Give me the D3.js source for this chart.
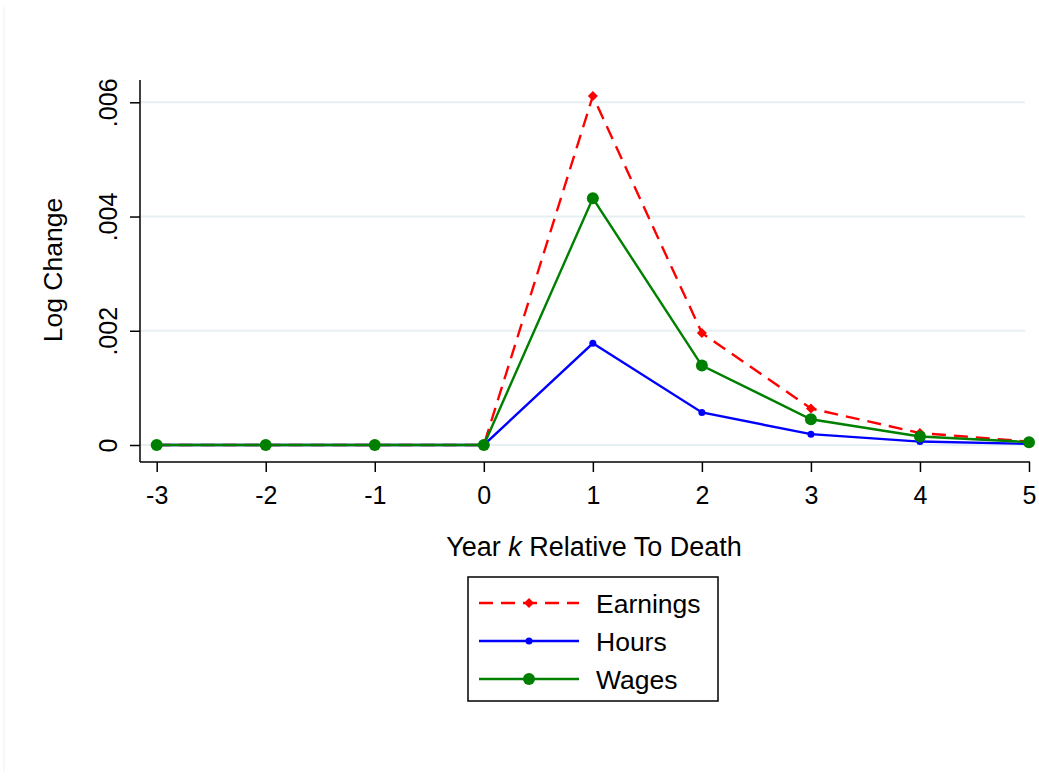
<!DOCTYPE html>
<html>
<head>
<meta charset="utf-8">
<script src="https://cdn.jsdelivr.net/npm/d3@7"></script>
<style>
  body { margin: 0; background: #fff; }
  svg { font-family: "Liberation Sans", Arial, Helvetica, sans-serif; }
</style>
</head>
<body>
<div id="chart"></div>
<script>
// data
var years = [-3, -2, -1, 0, 1, 2, 3, 4, 5];
var earnings = [0, 0, 0, 0, 0.00611, 0.00196, 0.00064, 0.00021, 0.00006];
var hours    = [0, 0, 0, 0, 0.00178, 0.00057, 0.00019, 0.00006, 0.00002];
var wages    = [0, 0, 0, 0, 0.00432, 0.00139, 0.00045, 0.00015, 0.00005];
var yTicks = [0, 0.002, 0.004, 0.006];
var yTickLabels = ["0", ".002", ".004", ".006"];

var width = 1039, height = 779;
var fontFam = "'Liberation Sans', Arial, sans-serif";

var svg = d3.select("#chart")
            .append("svg")
            .attr("width", width)
            .attr("height", height);

// faint border line on the left edge
svg.append("line")
   .attr("x1", 4).attr("x2", 4)
   .attr("y1", 7).attr("y2", 772)
   .style("stroke", "#f0f0f0")
   .style("stroke-width", 1);

var x = d3.scaleLinear().domain([-3, 5]).range([156.7, 1029]);
var y = d3.scaleLinear().domain([0, 0.006]).range([445, 102.3]);

// grid lines
svg.append("g")
   .attr("class", "grid")
   .selectAll("line")
   .data(yTicks)
   .enter()
   .append("line")
   .attr("x1", 141).attr("x2", 1025)
   .attr("y1", function(d) { return y(d); })
   .attr("y2", function(d) { return y(d); })
   .style("stroke", "#e6eff1")
   .style("stroke-width", 2);

// y axis
var yAxis = svg.append("g")
   .attr("class", "y_axis")
   .attr("transform", "translate(140,0)")
   .call(d3.axisLeft(y).tickValues(yTicks)
           .tickFormat(function(d, i) { return yTickLabels[i]; })
           .tickSize(10));
yAxis.select(".domain").attr("d", "M0,80V462").style("stroke", "#000").style("stroke-width", 1.5);
yAxis.selectAll(".tick line").style("stroke", "#000").style("stroke-width", 1.5);
yAxis.selectAll(".tick text")
     .attr("transform", "rotate(-90)")
     .attr("x", 0)
     .attr("y", -23)
     .attr("dy", 0)
     .style("text-anchor", "middle")
     .style("font-size", "25px")
     .style("font-family", fontFam)
     .style("fill", "#000");

// x axis
var xAxis = svg.append("g")
   .attr("class", "x_axis")
   .attr("transform", "translate(0,462)")
   .call(d3.axisBottom(x).tickValues(years).tickFormat(function(d) { return String(d); })
           .tickSize(10));
xAxis.select(".domain").attr("d", "M140,0H1030").style("stroke", "#000").style("stroke-width", 1.5);
xAxis.selectAll(".tick line").style("stroke", "#000").style("stroke-width", 1.5);
xAxis.selectAll(".tick text")
     .attr("y", 42)
     .attr("dy", 0)
     .style("font-size", "25px")
     .style("font-family", fontFam)
     .style("fill", "#000");

// axis titles
svg.append("text")
   .attr("transform", "translate(62,270) rotate(-90)")
   .style("text-anchor", "middle")
   .style("font-size", "26.5px")
   .text("Log Change");

var xt = svg.append("text")
   .attr("x", 594).attr("y", 556)
   .style("text-anchor", "middle")
   .style("font-size", "27px");
xt.append("tspan").text("Year ");
xt.append("tspan").style("font-style", "italic").text("k");
xt.append("tspan").text(" Relative To Death");

var series = [
  { name: "Earnings", values: earnings, color: "#ff0000", dash: "14,8", marker: "diamond", size: 4.5 },
  { name: "Hours",    values: hours,    color: "#0000ff", dash: null,   marker: "circle",  size: 3.5 },
  { name: "Wages",    values: wages,    color: "#008000", dash: null,   marker: "circle",  size: 6 }
];

var line = d3.line()
             .x(function(d, i) { return x(years[i]); })
             .y(function(d) { return y(d); });

function drawMarker(g, s, cx, cy) {
  if (s.marker == "diamond") {
    g.append("path")
     .attr("d", "M0,-5L5,0L0,5L-5,0Z")
     .attr("transform", "translate(" + cx + "," + cy + ")")
     .style("fill", s.color);
  } else {
    g.append("circle")
     .attr("cx", cx).attr("cy", cy).attr("r", s.size)
     .style("fill", s.color);
  }
}

series.forEach(function(s) {
  var g = svg.append("g").attr("class", "series");
  g.append("path")
   .datum(s.values)
   .attr("d", line)
   .style("fill", "none")
   .style("stroke", s.color)
   .style("stroke-width", 2.4)
   .style("stroke-dasharray", s.dash);
  s.values.forEach(function(v, i) {
    drawMarker(g, s, x(years[i]), y(v));
  });
});

// legend
var legend = svg.append("g").attr("class", "legend");
legend.append("rect")
      .attr("x", 468).attr("y", 577)
      .attr("width", 250).attr("height", 124)
      .style("fill", "#fff")
      .style("stroke", "#000")
      .style("stroke-width", 1.5);

series.forEach(function(s, i) {
  var ly = 603 + i * 38;
  legend.append("line")
        .attr("x1", 479).attr("x2", 579)
        .attr("y1", ly).attr("y2", ly)
        .style("stroke", s.color)
        .style("stroke-width", 2.4)
        .style("stroke-dasharray", s.dash);
  drawMarker(legend, s, 529, ly);
  legend.append("text")
        .attr("x", 596).attr("y", ly)
        .attr("dy", "0.36em")
        .style("font-size", "26.5px")
        .text(s.name);
});
</script>
</body>
</html>
